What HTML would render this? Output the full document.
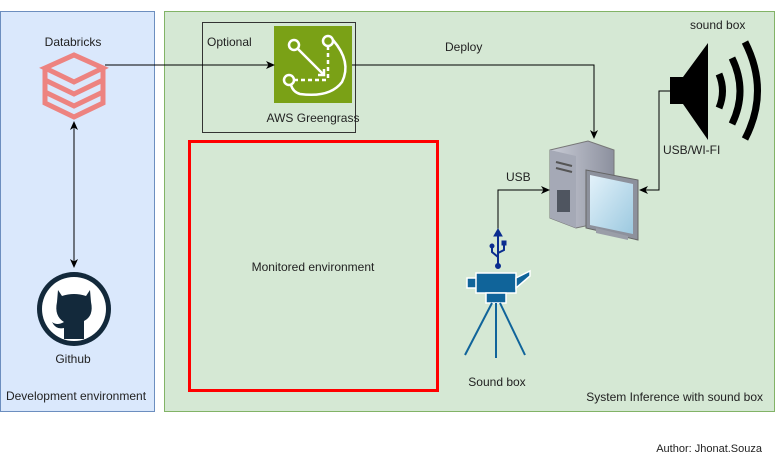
<!DOCTYPE html>
<html><head><meta charset="utf-8"><style>
html,body{margin:0;padding:0;background:#fff;}
svg{display:block;font-family:"Liberation Sans",sans-serif;}
</style></head><body>
<svg width="775" height="461" viewBox="0 0 775 461" xmlns="http://www.w3.org/2000/svg">
<defs>
<marker id="ar" markerWidth="10" markerHeight="10" refX="8" refY="4" orient="auto" markerUnits="userSpaceOnUse"><path d="M0,0 L9,4 L0,8 L2.5,4 Z" fill="#000"/></marker>
<marker id="as" markerWidth="10" markerHeight="10" refX="1" refY="4" orient="auto" markerUnits="userSpaceOnUse"><path d="M9,0 L0,4 L9,8 L6.5,4 Z" fill="#000"/></marker>
<linearGradient id="pc" x1="0" x2="1"><stop offset="0" stop-color="#c9ccd6"/><stop offset="1" stop-color="#8c909e"/></linearGradient>
<linearGradient id="scr" x1="0" y1="0" x2="1" y2="1"><stop offset="0" stop-color="#e3f2fa"/><stop offset="1" stop-color="#9cc9e0"/></linearGradient>
</defs>
<rect x="0.5" y="11.5" width="154" height="400" fill="#dae8fc" stroke="#6c8ebf"/>
<rect x="164.5" y="11.5" width="610" height="400" fill="#d5e8d4" stroke="#82b366"/>
<rect x="202.5" y="22.5" width="153" height="110" fill="none" stroke="#333"/>
<text x="207" y="46" font-size="12" fill="#222">Optional</text>
<rect x="274" y="26" width="78" height="77" fill="#7aa116"/>
<g stroke="#fff" stroke-width="2.5" fill="none">
<circle cx="294" cy="45" r="5"/><circle cx="328" cy="41" r="5"/><circle cx="289" cy="80" r="5"/>
<line x1="298" y1="49" x2="323" y2="74"/><path d="M318,75 L324,75 L324,69"/>
<line x1="328" y1="46" x2="328" y2="78" stroke-dasharray="4,3"/>
<line x1="294" y1="80" x2="326" y2="80" stroke-dasharray="4,3"/>
<path d="M333,40 Q352,62 342,82 Q330,98 300,94 Q293,92 291,85"/>
</g>
<text x="313" y="122" font-size="12" fill="#222" text-anchor="middle">AWS Greengrass</text>
<text x="73" y="46" font-size="12" fill="#222" text-anchor="middle">Databricks</text>
<g fill="none" stroke="#f26b62" stroke-width="5" opacity="0.8">
<path d="M45,68 L74,55 L103,68 L74,82 Z"/>
<path d="M45,80 L74,94 L103,80"/>
<path d="M45,92 L74,106 L103,92"/>
<path d="M45,68 L45,103 L74,117 L103,103 L103,68"/>
</g>
<line x1="105" y1="65" x2="274" y2="65" stroke="#000" marker-end="url(#ar)"/>
<polyline points="352,65 594,65 594,138" fill="none" stroke="#000" marker-end="url(#ar)"/>
<text x="445" y="51" font-size="12" fill="#222">Deploy</text>
<line x1="74" y1="122" x2="74" y2="267" stroke="#000" marker-start="url(#as)" marker-end="url(#ar)"/>
<circle cx="74" cy="309" r="37" fill="#13293b"/>
<circle cx="74" cy="309" r="32" fill="#fff"/>
<path d="M58,290 L62,296 Q74,292 86,296 L90,290 L91,302 Q94,316 84,321 L84,339 L64,339 L64,328 Q56,330 52,322 Q57,326 64,322 Q54,316 57,302 Z" fill="#13293b"/>
<text x="73" y="363" font-size="12" fill="#222" text-anchor="middle">Github</text>
<text x="76" y="400" font-size="12" fill="#222" text-anchor="middle">Development environment</text>
<rect x="189.5" y="141.5" width="248" height="249" fill="none" stroke="#ff0000" stroke-width="3"/>
<text x="313" y="271" font-size="12" fill="#222" text-anchor="middle">Monitored environment</text>
<text x="763" y="401" font-size="12" fill="#222" text-anchor="end">System Inference with sound box</text>
<text x="762" y="452" font-size="11" fill="#222" text-anchor="end">Author: Jhonat.Souza</text>
<path d="M550,150 L588,141 L614,150 L614,220 L576,228 L550,218 Z" fill="url(#pc)" stroke="#777"/>
<path d="M550,150 L576,156 L576,228 L550,218 Z" fill="#a5a9b6"/>
<rect x="557" y="190" width="13" height="22" fill="#4f5560"/>
<line x1="556" y1="162" x2="572" y2="166" stroke="#555" stroke-width="2"/>
<line x1="556" y1="168" x2="572" y2="172" stroke="#555" stroke-width="2"/>
<path d="M586,170 L638,180 L638,240 L586,228 Z" fill="#8d919c" stroke="#666"/>
<path d="M590,175 L633,184 L633,234 L590,225 Z" fill="url(#scr)"/>
<path d="M596,228 L628,236 L628,240 L596,233 Z" fill="#9a9ea8"/>
<text x="506" y="181" font-size="12" fill="#222">USB</text>
<polyline points="498,235 498,190 549,190" fill="none" stroke="#000" marker-end="url(#ar)"/>
<text x="690" y="29" font-size="12" fill="#222">sound box</text>
<path d="M670,77 L683,77 L708,43 L708,140 L683,104 L670,104 Z" fill="#000"/>
<path d="M719,74 Q726,91 719,108" stroke="#000" stroke-width="7" fill="none"/>
<path d="M732,58 Q748,91 732,124" stroke="#000" stroke-width="7" fill="none"/>
<path d="M745,42 Q770,91 745,139" stroke="#000" stroke-width="7" fill="none"/>
<polyline points="670,91 659,91 659,190 640,190" fill="none" stroke="#000" marker-end="url(#ar)"/>
<text x="663" y="154" font-size="12" fill="#222">USB/WI-FI</text>
<g stroke="#0b2d8f" fill="#0b2d8f">
<line x1="498" y1="232" x2="498" y2="266" stroke-width="2"/>
<path d="M494,236 L498,229 L502,236 Z"/>
<path d="M492,246 L492,252 L498,257" fill="none" stroke-width="2"/>
<circle cx="492" cy="246" r="2"/>
<path d="M504,244 L504,250 L498,253" fill="none" stroke-width="2"/>
<rect x="502" y="241" width="4" height="4"/>
<circle cx="498" cy="266" r="2.5"/>
</g>
<g fill="#10649a" stroke="#fff" stroke-width="1.5">
<rect x="467" y="278" width="10" height="10"/>
<rect x="476" y="273" width="40" height="20"/>
<path d="M516,278 L530,271 L530,276 L516,288 Z"/>
<rect x="486" y="293" width="20" height="10"/>
</g>
<g stroke="#10649a" stroke-width="2">
<line x1="492" y1="303" x2="465" y2="355"/>
<line x1="496" y1="303" x2="496" y2="358"/>
<line x1="500" y1="303" x2="525" y2="355"/>
</g>
<text x="497" y="386" font-size="12" fill="#222" text-anchor="middle">Sound box</text>
</svg>
</body></html>
